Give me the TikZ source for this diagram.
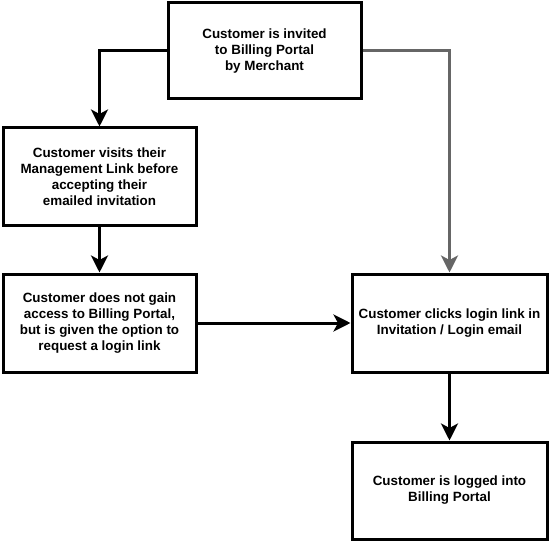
\documentclass[tikz,border=0pt]{standalone}
\usepackage{fontspec}
\setmainfont{Liberation Sans}
\usetikzlibrary{arrows.meta}
\definecolor{graylink}{HTML}{666666}
\tikzset{
  box/.style={draw=black, line width=3pt, rectangle, align=center, fill=white,
    font=\bfseries\fontsize{13.4}{16}\selectfont, inner sep=2pt},
  flow/.style={line width=3pt, -{Stealth[length=17pt,width=17pt,inset=4.5pt]}},
}
\begin{document}
\begin{tikzpicture}[x=1pt,y=-1pt]
\useasboundingbox (0,0) rectangle (550,543);
\node[box, minimum width=193pt, minimum height=96pt] (A) at (264.5,51)
  {Customer is invited\\to Billing Portal\\by Merchant};
\node[box, minimum width=193pt, minimum height=98pt] (B) at (99.5,177)
  {Customer visits their\\Management Link before\\accepting their\\emailed invitation};
\node[box, minimum width=193pt, minimum height=98pt] (C) at (99.5,323)
  {Customer does not gain\\access to Billing Portal,\\but is given the option to\\request a login link};
\node[box, minimum width=195pt, minimum height=98pt] (D) at (449.5,323)
  {Customer clicks login link in\\Invitation / Login email};
\node[box, minimum width=195pt, minimum height=97pt] (E) at (449.5,490.5)
  {Customer is logged into\\Billing Portal};
\draw[flow] (A.west) -| (B.north);
\draw[flow, color=graylink] (A.east) -| (D.north);
\draw[flow] (B) -- (C);
\draw[flow] (C) -- (D);
\draw[flow] (D) -- (E);
\end{tikzpicture}
\end{document}
